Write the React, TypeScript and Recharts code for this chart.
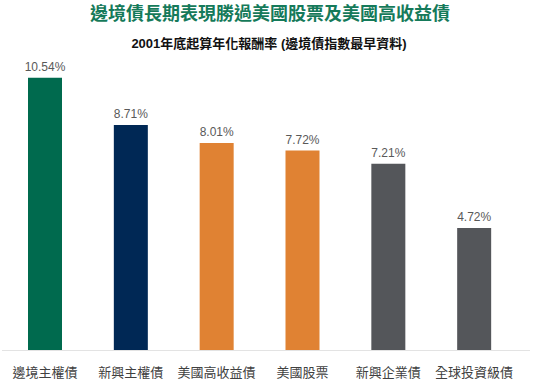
import React from 'react';
import { BarChart, Bar, XAxis, YAxis, Cell, LabelList } from 'recharts';

const categories = ['邊境主權債', '新興主權債', '美國高收益債', '美國股票', '新興企業債', '全球投資級債'];
const returns = [10.54, 8.71, 8.01, 7.72, 7.21, 4.72];
const barColors = ['#006A4E', '#002855', '#E08233', '#E08233', '#54565A', '#54565A'];

const FONT = '"Liberation Sans", Arial, "Noto Sans CJK TC", sans-serif';

const data = categories.map((name, i) => ({ name, value: returns[i] }));

const App = () => {
  return (
    <div style={{ position: 'absolute', left: 0, top: 0, width: 533, height: 384, background: '#fff', fontFamily: FONT }}>
      {/* titles */}
      <div
        style={{
          position: 'absolute', top: 3, left: 0, width: 540, textAlign: 'center',
          color: '#157A5A', fontWeight: 'bold', fontSize: 18, lineHeight: '23px',
        }}
      >
        邊境債長期表現勝過美國股票及美國高收益債
      </div>
      <div
        style={{
          position: 'absolute', top: 35, left: 0, width: 538, textAlign: 'center',
          color: '#111', fontWeight: 'bold', fontSize: 13, lineHeight: '18px',
        }}
      >
        2001年底起算年化報酬率 (邊境債指數最早資料)
      </div>

      <div style={{ position: 'absolute', left: 2, top: 350, width: 528, height: 1, background: '#E3E3E3' }} />

      <div style={{ position: 'absolute', left: 0, top: 0 }}>
        <BarChart width={533} height={384} data={data} margin={{ top: 40, right: 16, left: 2, bottom: 0 }}>
          <XAxis
            dataKey="name"
            axisLine={false}
            tickLine={false}
            height={34}
            interval={0}
            tick={{ fill: '#404040', fontSize: 13, fontFamily: FONT }}
            tickMargin={12}
          />
          <YAxis hide domain={[0, 12]} />
          <Bar dataKey="value" barSize={34} isAnimationActive={false}>
            {data.map((d, i) => (
              <Cell key={`cell-${i}`} fill={barColors[i]} />
            ))}
            <LabelList
              dataKey="value"
              position="top"
              offset={7}
              formatter={(v: number) => `${v.toFixed(2)}%`}
              style={{ fill: '#595959', fontSize: 12, fontFamily: FONT }}
            />
          </Bar>
        </BarChart>
      </div>
    </div>
  );
};

export default App;
